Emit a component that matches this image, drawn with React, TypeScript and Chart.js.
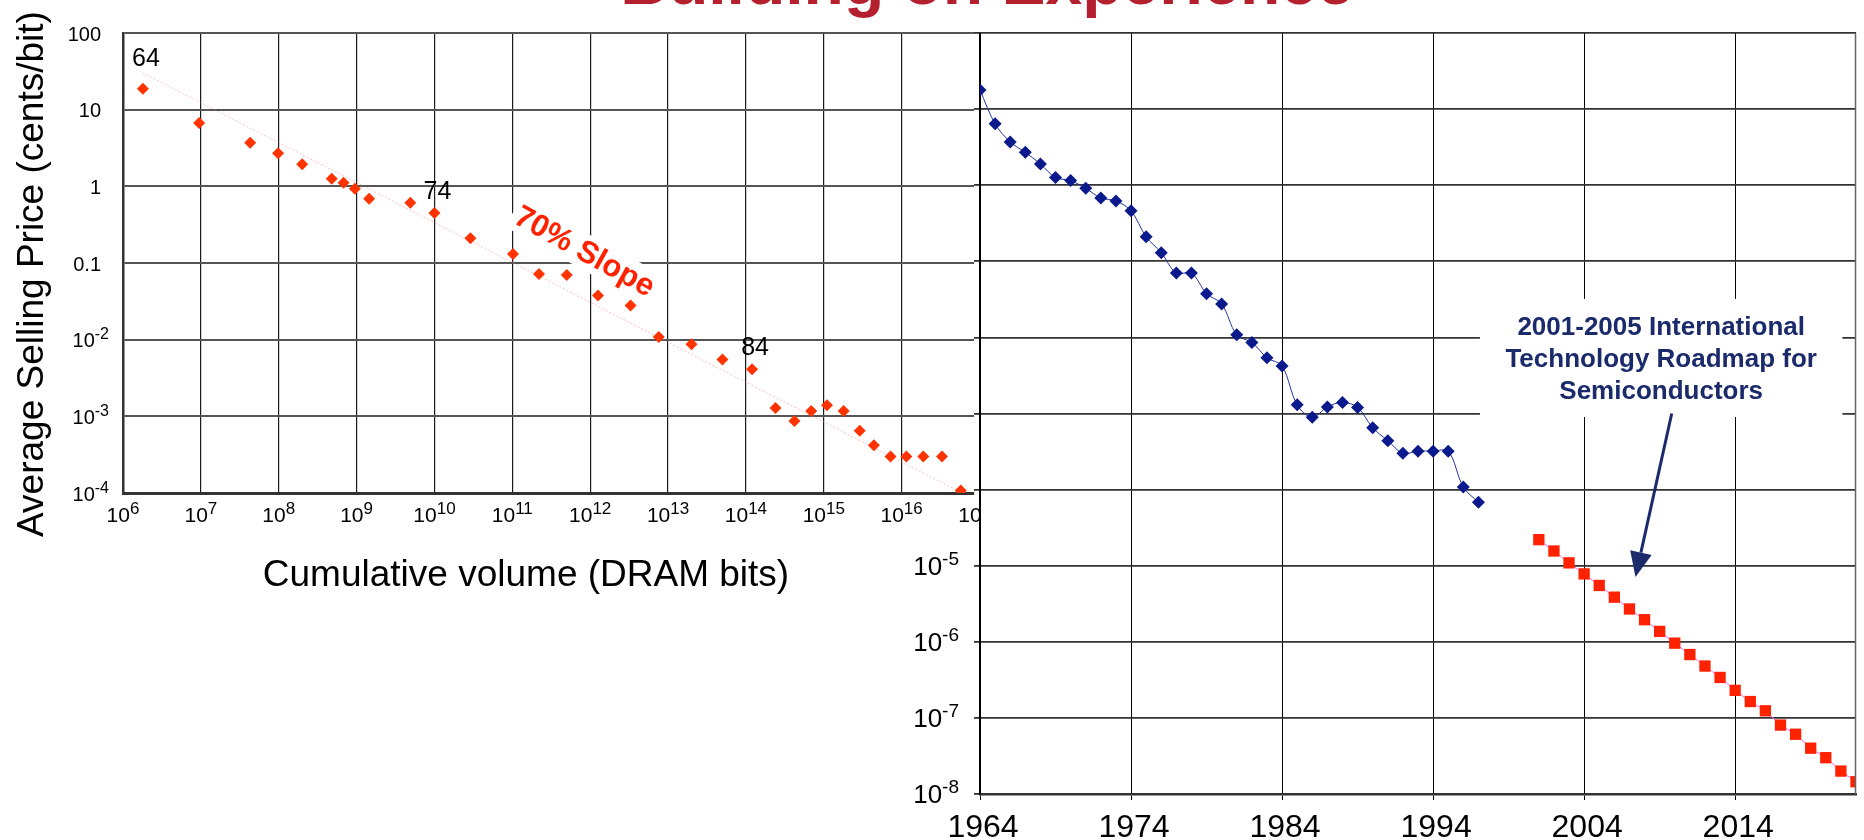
import React, { useEffect, useRef } from 'react';
import { Chart, registerables } from 'chart.js';

Chart.register(...registerables);

const FONT = '"Liberation Sans", Arial, Helvetica, sans-serif';

// ---------- Left chart: price vs cumulative volume ----------
const LEFT_VOLUME = [
  1.8e6, 9.5e6, 4.3e7, 9.8e7, 2.0e8, 4.8e8, 6.8e8, 9.5e8, 1.45e9, 4.9e9, 1.0e10,
  2.9e10, 1.02e11, 2.2e11, 5.0e11, 1.26e12, 3.3e12, 7.6e12, 2.0e13, 5.0e13, 1.2e14,
  2.4e14, 4.2e14, 6.9e14, 1.1e15, 1.8e15, 2.9e15, 4.4e15, 7.2e15, 1.15e16, 1.9e16,
  3.3e16, 5.75e16,
];
const LEFT_PRICE = [
  18.8, 6.7, 3.7, 2.7, 1.94, 1.26, 1.11, 0.93, 0.69, 0.61, 0.45,
  0.21, 0.131, 0.072, 0.07, 0.0376, 0.0279, 0.0108, 0.0087, 0.0055, 0.0041,
  0.00128, 0.00087, 0.00117, 0.0014, 0.00117, 0.00065, 0.00042, 0.0003, 0.0003, 0.0003,
  0.0003, 0.000108,
];
const LEFT_TREND_VOLUME = [1.8e6, 6.0e16];
const LEFT_TREND_PRICE = [30, 1.0e-4];

const LEFT_X_TICKS = [1e6, 1e7, 1e8, 1e9, 1e10, 1e11, 1e12, 1e13, 1e14, 1e15, 1e16, 1e17];
const LEFT_X_TICK_LABELS = ['10^6', '10^7', '10^8', '10^9', '10^10', '10^11', '10^12', '10^13', '10^14', '10^15', '10^16', '10^17'];
const LEFT_Y_TICKS = [100, 10, 1, 0.1, 1e-2, 1e-3, 1e-4];
const LEFT_Y_TICK_LABELS = ['100', '10', '1', '0.1', '10^-2', '10^-3', '10^-4'];
const LEFT_X_MIN = 1e6;
const LEFT_X_MAX = 8.5e16;

const YEAR_LABELS = ['64', '74', '84'];
const YEAR_LABEL_POINT = [0, 10, 20];
const SLOPE_TEXT = '70% Slope';
const SLOPE_AT = { x: 8.36e11, y: 0.138 };

const LEFT_Y_TITLE = 'Average Selling Price (cents/bit)';
const LEFT_X_TITLE = 'Cumulative volume (DRAM bits)';

// ---------- Right chart: price vs year ----------
const BLUE_YEARS = [
  1964, 1965, 1966, 1967, 1968, 1969, 1970, 1971, 1972, 1973, 1974, 1975, 1976, 1977, 1978, 1979, 1980,
  1981, 1982, 1983, 1984, 1985, 1986, 1987, 1988, 1989, 1990, 1991, 1992, 1993, 1994, 1995, 1996, 1997,
];
const BLUE_PRICE = [
  17.8, 6.4, 3.7, 2.7, 1.9, 1.26, 1.15, 0.91, 0.68, 0.62, 0.46, 0.21, 0.13, 0.07, 0.07, 0.0376, 0.0275,
  0.0108, 0.0086, 0.0054, 0.0042, 0.0013, 0.00089, 0.00122, 0.0014, 0.0012, 0.00065, 0.00044, 0.0003, 0.00032, 0.00032, 0.00032, 0.000108, 6.8e-5,
];
const RED_YEARS = [
  2001, 2002, 2003, 2004, 2005, 2006, 2007, 2008, 2009, 2010, 2011,
  2012, 2013, 2014, 2015, 2016, 2017, 2018, 2019, 2020, 2021, 2022,
];
const RED_PRICE = [
  2.2e-5, 1.56e-5, 1.09e-5, 7.8e-6, 5.5e-6, 3.86e-6, 2.7e-6, 1.95e-6, 1.37e-6, 9.6e-7, 6.8e-7,
  4.8e-7, 3.4e-7, 2.3e-7, 1.64e-7, 1.24e-7, 8.05e-8, 6.1e-8, 4.0e-8, 3.0e-8, 2.0e-8, 1.45e-8,
];
const RIGHT_X_TICKS = [1964, 1974, 1984, 1994, 2004, 2014];
const RIGHT_X_TICK_LABELS = ['1964', '1974', '1984', '1994', '2004', '2014'];
const RIGHT_X_MIN = 1964;
const RIGHT_X_MAX = 2022;
const RIGHT_Y_TICKS = [1e2, 1e1, 1, 1e-1, 1e-2, 1e-3, 1e-4, 1e-5, 1e-6, 1e-7, 1e-8];
const RIGHT_Y_TICK_LABELS = ['', '', '', '', '', '', '', '10^-5', '10^-6', '10^-7', '10^-8'];

const ITRS_LINES = ['2001-2005 International', 'Technology Roadmap for', 'Semiconductors'];
const ITRS_BOX = { x0: 1997.1, x1: 2021.1, yTop: 0.032, yBottom: 9.0e-4 };
const ARROW_FROM = { x: 2009.8, y: 1.0e-3 };
const ARROW_TO = { x: 2007.4, y: 7.1e-6 };

const TITLE = 'Building on Experience';

function drawTickText(
  ctx: CanvasRenderingContext2D,
  label: string,
  x: number,
  y: number,
  size: number,
  expSize: number,
  rise: number,
  align: 'center' | 'right' | 'left',
) {
  const i = label.indexOf('^');
  const base = i < 0 ? label : label.slice(0, i);
  const exp = i < 0 ? '' : label.slice(i + 1);
  ctx.font = `${size}px ${FONT}`;
  const bw = ctx.measureText(base).width;
  ctx.font = `${expSize}px ${FONT}`;
  const ew = exp ? ctx.measureText(exp).width : 0;
  const total = bw + ew;
  const x0 = align === 'center' ? x - total / 2 : align === 'right' ? x - total : x;
  ctx.textAlign = 'left';
  ctx.textBaseline = 'alphabetic';
  ctx.font = `${size}px ${FONT}`;
  ctx.fillText(base, x0, y);
  if (exp) {
    ctx.font = `${expSize}px ${FONT}`;
    ctx.fillText(exp, x0 + bw, y - rise);
  }
}

const leftDecor = {
  id: 'leftDecor',
  beforeDatasetsDraw(chart: any) {
    const { ctx, scales } = chart;
    const px = scales.x.getPixelForValue(SLOPE_AT.x);
    const py = scales.y.getPixelForValue(SLOPE_AT.y);
    ctx.save();
    ctx.translate(px, py);
    ctx.rotate((29 * Math.PI) / 180);
    ctx.font = `bold 31px ${FONT}`;
    const w = ctx.measureText(SLOPE_TEXT).width;
    ctx.fillStyle = '#ffffff';
    ctx.fillRect(-w / 2 - 4, -18, w + 8, 34);
    ctx.fillStyle = '#FF2200';
    ctx.textAlign = 'center';
    ctx.textBaseline = 'middle';
    ctx.fillText(SLOPE_TEXT, 0, 0);
    ctx.restore();
  },
  afterDraw(chart: any) {
    const { ctx, scales, chartArea } = chart;
    const xs = scales.x;
    const ys = scales.y;
    ctx.save();
    ctx.fillStyle = '#000';
    LEFT_Y_TICKS.forEach((v, i) => {
      const lab = LEFT_Y_TICK_LABELS[i];
      const py = ys.getPixelForValue(v);
      const isPow = lab.indexOf('^') >= 0;
      drawTickText(ctx, lab, chartArea.left - (isPow ? 14 : 22), py + 7.5, 20, 16, 8, 'right');
    });
    LEFT_X_TICKS.forEach((v, i) => {
      const px = xs.getPixelForValue(v);
      drawTickText(ctx, LEFT_X_TICK_LABELS[i], px, chartArea.bottom + 29, 21, 17, 8, 'center');
    });
    // year annotations next to points
    const meta = chart.getDatasetMeta(1);
    ctx.font = `25px ${FONT}`;
    ctx.textAlign = 'center';
    ctx.textBaseline = 'alphabetic';
    const offs = [-23, -13.5, -14.5];
    YEAR_LABELS.forEach((t, k) => {
      const el = meta.data[YEAR_LABEL_POINT[k]];
      ctx.fillText(t, el.x + 3, el.y + offs[k]);
    });
    // axis titles
    ctx.font = `37px ${FONT}`;
    ctx.textAlign = 'center';
    ctx.textBaseline = 'alphabetic';
    ctx.fillText(LEFT_X_TITLE, 526, chartArea.bottom + 93);
    ctx.save();
    ctx.translate(43, 274);
    ctx.rotate(-Math.PI / 2);
    ctx.fillText(LEFT_Y_TITLE, 0, 0);
    ctx.restore();
    ctx.restore();
  },
};

const rightDecor = {
  id: 'rightDecor',
  afterDraw(chart: any) {
    const { ctx, scales, chartArea } = chart;
    const xs = scales.x;
    const ys = scales.y;
    ctx.save();
    // right border
    ctx.strokeStyle = '#666';
    ctx.lineWidth = 1.5;
    ctx.beginPath();
    ctx.moveTo(chartArea.right - 0.5, chartArea.top);
    ctx.lineTo(chartArea.right - 0.5, chartArea.bottom);
    ctx.stroke();

    ctx.fillStyle = '#000';
    RIGHT_Y_TICKS.forEach((v, i) => {
      const lab = RIGHT_Y_TICK_LABELS[i];
      if (!lab) return;
      const py = ys.getPixelForValue(v);
      drawTickText(ctx, lab, chartArea.left - 21, py + 9, 26, 19, 10, 'right');
    });
    RIGHT_X_TICKS.forEach((v, i) => {
      const px = xs.getPixelForValue(v);
      drawTickText(ctx, RIGHT_X_TICK_LABELS[i], px + 3, chartArea.bottom + 43, 32, 20, 10, 'center');
    });

    // ITRS annotation box
    const bx0 = xs.getPixelForValue(ITRS_BOX.x0);
    const bx1 = xs.getPixelForValue(ITRS_BOX.x1);
    const by0 = ys.getPixelForValue(ITRS_BOX.yTop);
    const by1 = ys.getPixelForValue(ITRS_BOX.yBottom);
    ctx.fillStyle = '#ffffff';
    ctx.fillRect(bx0, by0, bx1 - bx0, by1 - by0);
    ctx.fillStyle = '#1B2A6B';
    ctx.font = `bold 26px ${FONT}`;
    ctx.textAlign = 'center';
    ctx.textBaseline = 'alphabetic';
    const cx = (bx0 + bx1) / 2;
    ITRS_LINES.forEach((t, k) => {
      ctx.fillText(t, cx, by0 + 36 + k * 32);
    });

    // arrow
    const ax0 = xs.getPixelForValue(ARROW_FROM.x);
    const ay0 = ys.getPixelForValue(ARROW_FROM.y);
    const ax1 = xs.getPixelForValue(ARROW_TO.x);
    const ay1 = ys.getPixelForValue(ARROW_TO.y);
    const ang = Math.atan2(ay1 - ay0, ax1 - ax0);
    const headLen = 25;
    const headHalf = 11;
    const bxh = ax1 - headLen * Math.cos(ang);
    const byh = ay1 - headLen * Math.sin(ang);
    ctx.strokeStyle = '#1B2A6B';
    ctx.lineWidth = 3;
    ctx.beginPath();
    ctx.moveTo(ax0, ay0);
    ctx.lineTo(bxh, byh);
    ctx.stroke();
    ctx.fillStyle = '#1B2A6B';
    ctx.beginPath();
    ctx.moveTo(ax1, ay1);
    ctx.lineTo(bxh + headHalf * Math.sin(ang), byh - headHalf * Math.cos(ang));
    ctx.lineTo(bxh - headHalf * Math.sin(ang), byh + headHalf * Math.cos(ang));
    ctx.closePath();
    ctx.fill();
    ctx.restore();
  },
};

export default function App() {
  const leftRef = useRef<HTMLCanvasElement | null>(null);
  const rightRef = useRef<HTMLCanvasElement | null>(null);

  useEffect(() => {
    if (!leftRef.current || !rightRef.current) return;

    const left = new Chart(leftRef.current, {
      type: 'scatter',
      data: {
        datasets: [
          {
            label: 'Trend',
            data: LEFT_TREND_VOLUME.map((v, i) => ({ x: v, y: LEFT_TREND_PRICE[i] })),
            showLine: true,
            borderColor: 'rgba(255,110,110,0.45)',
            borderWidth: 1,
            borderDash: [2, 2],
            pointRadius: 0,
            order: 2,
          },
          {
            label: 'ASP',
            data: LEFT_VOLUME.map((v, i) => ({ x: v, y: LEFT_PRICE[i] })),
            showLine: false,
            pointStyle: 'rectRot',
            pointRadius: 6,
            pointBackgroundColor: '#FF3300',
            pointBorderColor: '#FF3300',
            pointBorderWidth: 0,
            order: 1,
          },
        ],
      } as any,
      options: {
        responsive: false,
        animation: false,
        events: [],
        layout: { padding: { left: 0, top: 33, right: 0, bottom: 0 } },
        plugins: { legend: { display: false }, tooltip: { enabled: false } },
        scales: {
          x: {
            type: 'logarithmic',
            min: LEFT_X_MIN,
            max: LEFT_X_MAX,
            afterBuildTicks: (a: any) => {
              a.ticks = LEFT_X_TICKS.filter((v) => v <= LEFT_X_MAX).map((v) => ({ value: v }));
            },
            afterFit: (a: any) => {
              a.height = 107;
            },
            ticks: { display: false, callback: () => '' },
            grid: { color: '#1a1a1a', lineWidth: 1.2, drawTicks: false },
            border: { color: '#333', width: 3 },
          },
          y: {
            type: 'logarithmic',
            min: 1e-4,
            max: 100,
            afterBuildTicks: (a: any) => {
              a.ticks = LEFT_Y_TICKS.map((v) => ({ value: v }));
            },
            afterFit: (a: any) => {
              a.width = 123;
            },
            ticks: { display: false, callback: () => '' },
            grid: { color: '#555', lineWidth: 2, drawTicks: false },
            border: { color: '#333', width: 2.5 },
          },
        },
      } as any,
      plugins: [leftDecor],
    });

    const right = new Chart(rightRef.current, {
      type: 'scatter',
      data: {
        datasets: [
          {
            label: 'Historical',
            data: BLUE_YEARS.map((v, i) => ({ x: v, y: BLUE_PRICE[i] })),
            showLine: true,
            tension: 0.35,
            borderColor: '#2233A0',
            borderWidth: 1,
            pointStyle: 'rectRot',
            pointRadius: 6.5,
            pointBackgroundColor: '#0A1A8C',
            pointBorderColor: '#0A1A8C',
            pointBorderWidth: 0,
          },
          {
            label: 'ITRS',
            data: RED_YEARS.map((v, i) => ({ x: v, y: RED_PRICE[i] })),
            showLine: true,
            borderColor: '#FF66FF',
            borderWidth: 1,
            pointStyle: 'rect',
            pointRadius: 8,
            pointBackgroundColor: '#FF2200',
            pointBorderColor: '#FF2200',
            pointBorderWidth: 0,
          },
        ],
      } as any,
      options: {
        responsive: false,
        animation: false,
        events: [],
        layout: { padding: { left: 0, top: 33, right: 2, bottom: 0 } },
        plugins: { legend: { display: false }, tooltip: { enabled: false } },
        scales: {
          x: {
            type: 'linear',
            min: RIGHT_X_MIN,
            max: RIGHT_X_MAX,
            afterBuildTicks: (a: any) => {
              a.ticks = RIGHT_X_TICKS.map((v) => ({ value: v }));
            },
            afterFit: (a: any) => {
              a.height = 46;
            },
            ticks: { display: false, callback: () => '' },
            grid: { color: '#000', lineWidth: 1, drawTicks: true, tickLength: 6 },
            border: { color: '#333', width: 2.5 },
          },
          y: {
            type: 'logarithmic',
            min: 1e-8,
            max: 100,
            afterBuildTicks: (a: any) => {
              a.ticks = RIGHT_Y_TICKS.map((v) => ({ value: v }));
            },
            afterFit: (a: any) => {
              a.width = 120;
            },
            ticks: { display: false, callback: () => '' },
            grid: { color: '#333', lineWidth: 1.8, drawTicks: true, tickLength: 6 },
            border: { color: '#000', width: 1.5 },
          },
        },
      } as any,
      plugins: [rightDecor],
    });

    return () => {
      left.destroy();
      right.destroy();
    };
  }, []);

  return (
    <div
      style={{
        position: 'fixed',
        left: 0,
        top: 0,
        width: 1864,
        height: 840,
        overflow: 'hidden',
        background: '#fff',
      }}
    >
      <div
        style={{
          position: 'absolute',
          left: 0,
          top: -52,
          width: 1974,
          textAlign: 'center',
          font: `bold 66px ${FONT}`,
          lineHeight: '66px',
          color: '#B5202E',
          whiteSpace: 'nowrap',
        }}
      >
        {TITLE}
      </div>
      <canvas
        ref={leftRef}
        width={980}
        height={600}
        style={{ position: 'absolute', left: 0, top: 0, width: 980, height: 600 }}
      />
      <canvas
        ref={rightRef}
        width={1004}
        height={840}
        style={{ position: 'absolute', left: 860, top: 0, width: 1004, height: 840 }}
      />
    </div>
  );
}
